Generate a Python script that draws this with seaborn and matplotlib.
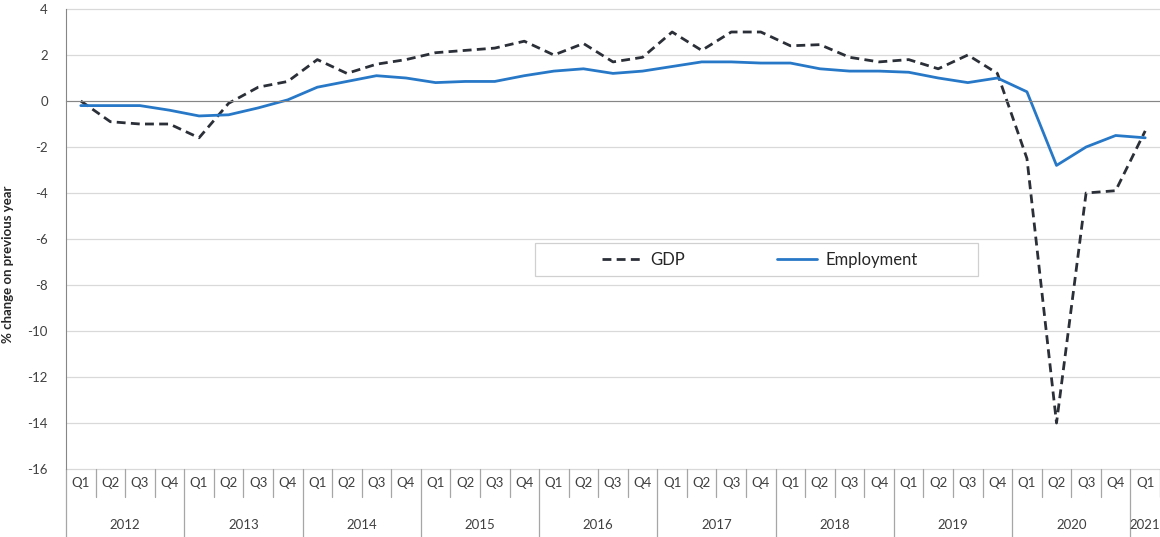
import pandas as pd
import seaborn as sns
import matplotlib.pyplot as plt
import matplotlib.transforms as mtransforms
from matplotlib.patches import Rectangle

# Data (% change on previous year)
years = ["2012", "2013", "2014", "2015", "2016", "2017", "2018", "2019", "2020", "2021"]
quarters = ["Q1", "Q2", "Q3", "Q4"] * 9 + ["Q1"]
gdp = [0.0, -0.9, -1.0, -1.0, -1.6, -0.1, 0.6, 0.85,
       1.8, 1.2, 1.6, 1.8, 2.1, 2.2, 2.3, 2.6,
       2.0, 2.5, 1.7, 1.9, 3.0, 2.2, 3.0, 3.0,
       2.4, 2.45, 1.9, 1.7, 1.8, 1.4, 2.0, 1.2,
       -2.5, -14.0, -4.0, -3.9, -1.3]
employment = [-0.2, -0.2, -0.2, -0.4, -0.65, -0.6, -0.3, 0.05,
              0.6, 0.85, 1.1, 1.0, 0.8, 0.85, 0.85, 1.1,
              1.3, 1.4, 1.2, 1.3, 1.5, 1.7, 1.7, 1.65,
              1.65, 1.4, 1.3, 1.3, 1.25, 1.0, 0.8, 1.0,
              0.4, -2.8, -2.0, -1.5, -1.6]

n = len(quarters)
df = pd.DataFrame({
    "idx": list(range(n)) * 2,
    "value": gdp + employment,
    "series": ["GDP"] * n + ["Employment"] * n,
})

sns.set_style("white")
plt.rcParams["font.family"] = ["Lato", "DejaVu Sans"]
plt.rcParams["axes.unicode_minus"] = False

fig = plt.figure(figsize=(11.6, 5.37), dpi=100)
ax = fig.add_axes([66 / 1160, 1 - 469 / 537, 1 - 66 / 1160, 460 / 537])

palette = {"GDP": "#2b2f38", "Employment": "#2878c8"}
sns.lineplot(data=df, x="idx", y="value", hue="series", style="series",
             palette=palette, dashes={"GDP": (3.2, 1.9), "Employment": ""},
             linewidth=2.0, ax=ax, legend=False)

ax.set_xlim(-0.5, n - 0.5)
ax.set_ylim(-16, 4)
ax.set_yticks(range(-16, 5, 2))
ax.yaxis.grid(True, color="#d9d9d9", linewidth=0.9)
for gl in ax.get_ygridlines():
    gl.set_clip_on(False)
ax.set_xlabel("")
ax.set_ylabel("")

for s in ["top", "right"]:
    ax.spines[s].set_visible(False)
ax.spines["left"].set_color("#868686")
ax.spines["bottom"].set_position(("data", 0))
ax.spines["bottom"].set_color("#868686")
ax.set_xticks([i - 0.5 for i in range(n + 1)])
ax.set_xticklabels([])
ax.tick_params(axis="x", direction="out", length=5, color="#868686", width=0.9)
ax.tick_params(axis="y", direction="out", length=5, color="#868686", width=0.9,
               labelsize=9.5, labelcolor="#404040", pad=8)

# Category table under the plot
trans = mtransforms.blended_transform_factory(ax.transData, ax.transAxes)
q_bottom = -28 / 460
y_bottom = -68 / 460
for i in range(n + 1):
    x = i - 0.5
    low = y_bottom if i % 4 == 0 else q_bottom
    ax.plot([x, x], [0, low], transform=trans, color="#a6a6a6", lw=0.9, clip_on=False)
for i, q in enumerate(quarters):
    ax.text(i, -14 / 460, q, transform=trans, ha="center", va="center",
            fontsize=9.5, color="#404040", clip_on=False)
for k, yr in enumerate(years):
    start = 4 * k
    end = min(4 * k + 3, n - 1)
    ax.text((start + end) / 2, -56 / 460, yr, transform=trans, ha="center",
            va="center", fontsize=9.5, color="#404040", clip_on=False)

# Legend
handles = [plt.Line2D([], [], color=palette["GDP"], lw=2.0, dashes=(3.2, 1.9)),
           plt.Line2D([], [], color=palette["Employment"], lw=2.0)]
ax.legend(handles, ["GDP", "Employment"], loc="center",
          bbox_to_anchor=(0.634, 0.454), ncol=2, frameon=False,
          fontsize=12, handlelength=2.4, columnspacing=5.5, handletextpad=0.5)
ax.add_patch(Rectangle((469 / 1094, 193 / 460), 443 / 1094, 33 / 460,
                       transform=ax.transAxes, fill=False, edgecolor="#d0d0d0",
                       lw=0.9, zorder=1))

fig.text(8 / 1160, 1 - 264 / 537, "% change on previous year", rotation=90,
         ha="center", va="center", fontsize=9.5, fontweight="bold", color="#262626")

fig.savefig("out.png", dpi=100)
